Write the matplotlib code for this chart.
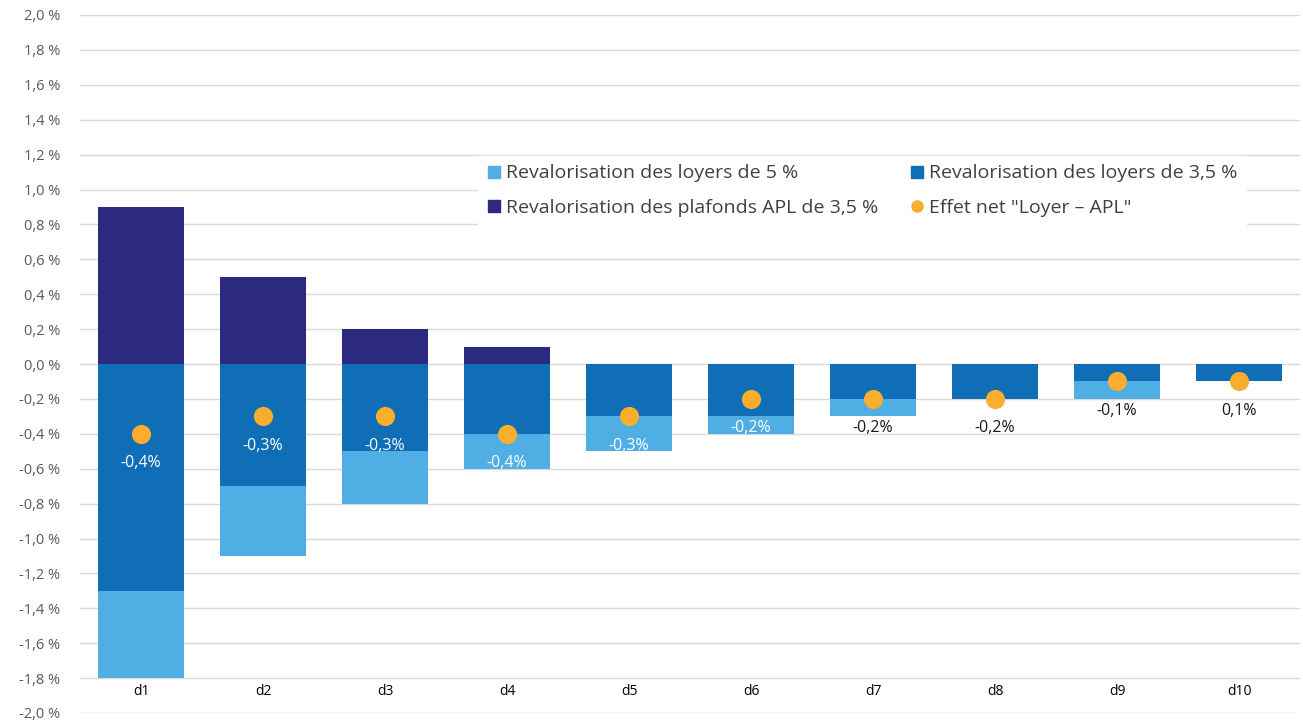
import matplotlib
matplotlib.use("Agg")
import matplotlib.pyplot as plt
from matplotlib.lines import Line2D
import numpy as np

plt.rcParams['font.family'] = ['Open Sans', 'DejaVu Sans']

categories = ["d1", "d2", "d3", "d4", "d5", "d6", "d7", "d8", "d9", "d10"]
loyers_5 = [-1.8, -1.1, -0.8, -0.6, -0.5, -0.4, -0.3, -0.2, -0.2, -0.1]
loyers_35 = [-1.3, -0.7, -0.5, -0.4, -0.3, -0.3, -0.2, -0.2, -0.1, -0.1]
plafonds_apl = [0.9, 0.5, 0.2, 0.1, 0.0, 0.0, 0.0, 0.0, 0.0, 0.0]
effet_net = [-0.4, -0.3, -0.3, -0.4, -0.3, -0.2, -0.2, -0.2, -0.1, -0.1]
net_labels = ["-0,4%", "-0,3%", "-0,3%", "-0,4%", "-0,3%", "-0,2%", "-0,2%", "-0,2%", "-0,1%", "0,1%"]
label_colors = ["white"] * 6 + ["#1a1a1a"] * 4
yticks = [round(-2.0 + 0.2 * i, 1) for i in range(21)]
ytick_labels = [("%.1f %%" % v).replace(".", ",").replace("-0,0", "0,0") for v in yticks]

c_light = "#4FAEE3"
c_mid = "#106EB6"
c_navy = "#2B2A7F"
c_orange = "#F9AE2E"

fig = plt.figure(figsize=(13.03, 7.2), dpi=100)
ax = fig.add_axes([80 / 1303, 1 - 713 / 720, 1220 / 1303, 698 / 720])

x = np.arange(len(categories))
w = 0.71
ax.bar(x, loyers_5, w, color=c_light, zorder=2)
ax.bar(x, loyers_35, w, color=c_mid, zorder=3)
ax.bar(x, plafonds_apl, w, color=c_navy, zorder=3)
ax.scatter(x, effet_net, s=190, color=c_orange, zorder=5, linewidths=0)

for xi, yi, lab, col in zip(x, effet_net, net_labels, label_colors):
    ax.annotate(lab, (xi, yi), xytext=(0, -21), textcoords="offset points",
                ha="center", va="center", color=col, fontsize=11.5, zorder=6)

ax.set_xlim(-0.5, 9.5)
ax.set_ylim(-2.0, 2.0)
ax.set_yticks(yticks)
ax.set_yticklabels(ytick_labels, color="#595959", fontsize=10.5)
ax.yaxis.grid(True, color="#D9D9D9", linewidth=1, zorder=0)
ax.set_axisbelow(True)
ax.tick_params(axis="y", length=0, pad=14)

ax.set_xticks(x)
ax.set_xticklabels(categories, color="#595959", fontsize=10.5)
ax.spines['bottom'].set_position(('data', -1.8))
ax.tick_params(axis="x", length=0, pad=4)
for s in ["top", "right", "left", "bottom"]:
    ax.spines[s].set_visible(False)

handles = [
    Line2D([], [], marker="s", linestyle="none", markersize=8, color=c_light),
    Line2D([], [], marker="s", linestyle="none", markersize=8, color=c_mid),
    Line2D([], [], marker="s", linestyle="none", markersize=8, color=c_navy),
    Line2D([], [], marker="o", linestyle="none", markersize=8, color=c_orange),
]
labels = [
    "Revalorisation des loyers de 5 %",
    "Revalorisation des loyers de 3,5 %",
    "Revalorisation des plafonds APL de 3,5 %",
    "Effet net \"Loyer \u2013 APL\"",
]
order = [0, 2, 1, 3]
leg = ax.legend([handles[i] for i in order], [labels[i] for i in order], ncol=2,
                loc="upper left", bbox_to_anchor=((468 - 80) / 1220, (713 - 146) / 698),
                frameon=True, fancybox=False, edgecolor="white", facecolor="white",
                framealpha=1, fontsize=14, handlelength=0.8, handletextpad=0.2,
                columnspacing=1.6, labelspacing=0.85, borderpad=0.45,
                labelcolor="#404040")
leg.set_zorder(10)

fig.savefig("out.png", dpi=100)
